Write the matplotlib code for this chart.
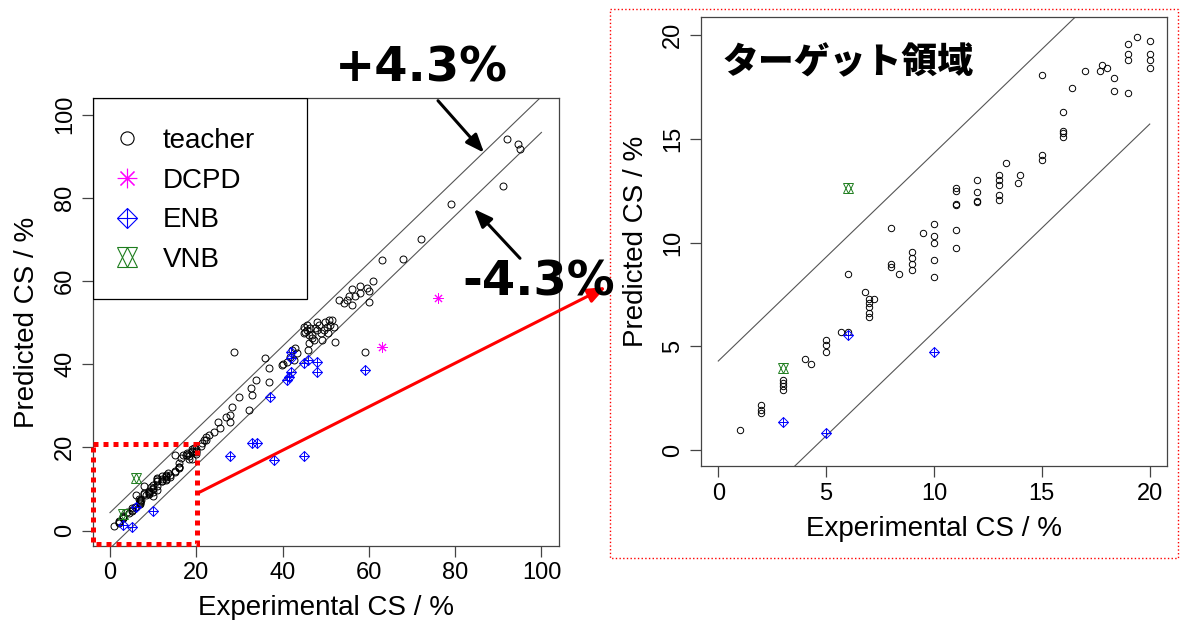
import matplotlib
matplotlib.use("Agg")
import matplotlib.pyplot as plt
from matplotlib.patches import Rectangle
from matplotlib.lines import Line2D

plt.rcParams['font.family'] = ['Liberation Sans', 'DejaVu Sans']

# --- datos ---
teacher_x = [1, 2, 2, 2, 3, 3, 3, 3, 4, 4.3, 5, 5, 5, 5.7, 6, 6, 6.8, 7, 7, 7, 7, 7, 7.2,
             8, 8, 8, 8.4, 9, 9, 9, 9, 9.5, 10, 10, 10, 10, 10, 11, 11, 11, 11, 11, 11,
             12, 12, 12, 12, 13, 13, 13, 13, 13, 13.35, 13.9, 14, 15, 15, 15, 16, 16, 16, 16,
             16.4, 17, 17.7, 17.8, 18, 18.35, 18.35, 19, 19, 19, 19, 19.4, 20, 20, 20, 20,
             21, 21.4, 21.8, 22.2, 22.2, 22.9, 24.1, 25.0, 25.5, 27.0, 27.9, 27.9, 28.2, 28.7,
             29.9, 32.2, 32.7, 32.9, 33.9, 36.0, 36.8, 36.8, 39.9, 40.1, 41.1, 41.8, 42.2, 42.6,
             43.0, 43.4, 45.8, 46.1,
             44.9, 45.3, 44.9, 45.7, 46.3, 46.9, 47.2, 48.0, 48.4, 48.8, 49.1, 49.9, 50.3, 50.7,
             51.1, 51.5, 51.9, 52.2, 49.5, 48.0, 46.9, 45.7, 46.1, 47.5, 50.5,
             53.0, 54.2, 55.0, 56.1, 56.9, 56.1, 58.0, 58.0, 59.6, 60.0, 61.0, 60.0, 55.3, 59.0,
             63, 68, 72, 79, 91, 92, 94.5, 95]
teacher_y = [1.0, 2.2, 1.95, 1.8, 3.4, 3.25, 3.1, 2.9, 4.4, 4.15, 5.3, 5.05, 4.75, 5.7, 5.7, 8.5,
             7.6, 7.3, 7.1, 6.9, 6.6, 6.4, 7.3, 10.7, 8.95, 8.8, 8.5, 9.55, 9.25, 8.95, 8.7, 10.45,
             10.9, 10.3, 10.0, 9.15, 8.35, 12.6, 12.5, 11.85, 11.8, 10.6, 9.75, 13.0, 12.45, 12.0,
             11.95, 13.25, 13.0, 12.75, 12.3, 12.05, 13.85, 12.85, 13.25, 18.05, 14.2, 13.95, 16.3,
             15.35, 15.25, 15.1, 17.45, 18.25, 18.25, 18.55, 18.4, 17.9, 17.3, 19.55, 19.05, 18.8,
             17.2, 19.9, 19.7, 19.05, 18.8, 18.4,
             20.2, 21.1, 21.8, 22.6, 21.7, 23.0, 23.8, 26.1, 24.6, 27.3, 27.8, 26.1, 29.8, 42.9,
             32.1, 29.0, 34.2, 32.6, 36.1, 41.4, 39.0, 35.6, 39.8, 40.1, 40.6, 41.8, 43.4, 41.0,
             43.8, 42.6, 43.3, 45.0,
             49.0, 47.8, 47.4, 49.4, 48.6, 47.0, 45.9, 50.2, 49.4, 47.4, 45.9, 50.2, 49.0, 50.5,
             49.4, 50.5, 49.0, 45.4, 48.2, 48.2, 46.2, 48.2, 47.0, 48.8, 47.5,
             55.5, 54.6, 55.5, 54.3, 56.3, 58.0, 58.7, 57.1, 58.3, 57.5, 59.9, 54.9, 56.3, 42.9,
             65, 65.2, 70, 78.5, 82.9, 94, 93, 91.7]

dcpd_x = [63, 76]
dcpd_y = [44.2, 55.9]

enb_x = [3, 5, 6, 10, 27.9, 33, 34, 38, 45, 37, 41, 41.6, 42, 42, 42, 45, 45.8, 48, 48, 59]
enb_y = [1.35, 0.85, 5.55, 4.75, 17.8, 21, 21, 17, 17.8, 32.2, 36.2, 37, 38.2, 42.8, 41.5,
         40.2, 41, 40.4, 38, 38.6]

vnb_x = [3, 6]
vnb_y = [3.95, 12.6]

banda = 4.3
ticks_izq = [0, 20, 40, 60, 80, 100]
ticks_der = [0, 5, 10, 15, 20]

C_DCPD = '#FF00FF'
C_ENB = '#0000FF'
C_VNB = '#1E7D1E'

W, H = 1182, 620
fig = plt.figure(figsize=(W / 100, H / 100), dpi=100)


def ejes_px(left, top, right, bottom):
    return fig.add_axes([left / W, 1 - bottom / H, (right - left) / W, (bottom - top) / H])


def estilo(ax, lim_x, lim_y, ticks):
    ax.set_xlim(lim_x)
    ax.set_ylim(lim_y)
    ax.set_xticks(ticks)
    ax.set_yticks(ticks)
    for s in ax.spines.values():
        s.set_color('#444444')
        s.set_linewidth(0.9)
    ax.tick_params(direction='out', length=8, width=0.9, color='#444444', labelsize=17, pad=4)
    ax.tick_params(axis='y', labelrotation=90, pad=4)
    plt.setp(ax.get_yticklabels(), va='center')
    ax.set_xlabel('Experimental CS / %', fontsize=20, labelpad=7.8)
    ax.set_ylabel('Predicted CS / %', fontsize=20, labelpad=9.8)


def puntos(ax, ms_c, ms_e, x_max):
    x_lin = [0, x_max]
    ax.plot(x_lin, [x + banda for x in x_lin], color='#555555', lw=0.8)
    ax.plot(x_lin, [x - banda for x in x_lin], color='#555555', lw=0.8)
    ax.plot(teacher_x, teacher_y, ls='none', marker='o', mfc='none', mec='black', ms=ms_c, mew=0.7)
    ax.plot(dcpd_x, dcpd_y, ls='none', marker=(8, 2, 0), color=C_DCPD, ms=ms_e, mew=0.7)
    ax.plot(enb_x, enb_y, ls='none', marker='D', mfc='none', mec=C_ENB, ms=ms_e * 0.7, mew=0.7)
    ax.plot(enb_x, enb_y, ls='none', marker='+', color=C_ENB, ms=ms_e, mew=0.7)
    ax.plot(vnb_x, vnb_y, ls='none', marker='^', mfc='none', mec=C_VNB, ms=ms_e, mew=0.7)
    ax.plot(vnb_x, vnb_y, ls='none', marker='v', mfc='none', mec=C_VNB, ms=ms_e, mew=0.7)


# panel izquierdo
ax1 = ejes_px(92.7, 98.3, 558.7, 545.5)
estilo(ax1, (-4, 104), (-3.6, 103.9), ticks_izq)
puntos(ax1, 5.0, 7.2, ticks_izq[-1])

h_teacher = Line2D([], [], ls='none', marker='o', mfc='none', mec='black', ms=9.5, mew=0.8)
h_dcpd = Line2D([], [], ls='none', marker=(8, 2, 0), color=C_DCPD, ms=14, mew=0.8)
h_enb = (Line2D([], [], ls='none', marker='D', mfc='none', mec=C_ENB, ms=10, mew=0.8),
         Line2D([], [], ls='none', marker='+', color=C_ENB, ms=14, mew=0.8))
h_vnb = (Line2D([], [], ls='none', marker='^', mfc='none', mec=C_VNB, ms=14, mew=0.8),
         Line2D([], [], ls='none', marker='v', mfc='none', mec=C_VNB, ms=14, mew=0.8))
ax1.legend([h_teacher, h_dcpd, h_enb, h_vnb], ['teacher', 'DCPD', 'ENB', 'VNB'],
           loc='upper left', bbox_to_anchor=(0, 0.977), borderaxespad=0, frameon=False,
           fontsize=20, borderpad=0.7, handlelength=1.05, handletextpad=0.77, labelspacing=0.49)
ax1.add_patch(Rectangle((0, 0.5512), 0.4605, 0.4488, transform=ax1.transAxes, fill=False,
                        ec='black', lw=0.9, zorder=5))

# panel derecho (zoom)
ax2 = ejes_px(701, 17, 1167, 466)
estilo(ax2, (-0.8, 20.8), (-0.75, 20.85), ticks_der)
puntos(ax2, 4.6, 7.2, ticks_der[-1])

# anotaciones en pixeles de la figura
ov = fig.add_axes([0, 0, 1, 1], zorder=10)
ov.set_xlim(0, W)
ov.set_ylim(H, 0)
ov.axis('off')
ov.patch.set_alpha(0)

ov.add_patch(Rectangle((609.5, 8.5), 568.5, 549.5, fill=False, ec='red', lw=1, ls=':'))
ov.add_patch(Rectangle((92.5, 443.5), 104.5, 100.5, fill=False, ec='red', lw=3.6, ls=(0, (1, 1))))

flecha = '-|>,head_length=0.55,head_width=0.22'
ov.annotate('', xy=(606, 287), xytext=(198, 493),
            arrowprops=dict(arrowstyle=flecha, color='red', lw=2.2, mutation_scale=20,
                            shrinkA=0, shrinkB=0))
ov.annotate('', xy=(484, 152.7), xytext=(438, 100.7),
            arrowprops=dict(arrowstyle=flecha, color='black', lw=2.2, mutation_scale=20,
                            shrinkA=0, shrinkB=0))
ov.annotate('', xy=(474, 209), xytext=(520, 258.3),
            arrowprops=dict(arrowstyle=flecha, color='black', lw=2.2, mutation_scale=20,
                            shrinkA=0, shrinkB=0))

ov.text(421.7, 81.7, '+4.3%', ha='center', va='baseline', fontsize=34.5, weight='bold',
        family='DejaVu Sans')
ov.text(539, 295, '-4.3%', ha='center', va='baseline', fontsize=34.5, weight='bold',
        family='DejaVu Sans')
ov.text(723, 73, 'ターゲット領域', ha='left', va='baseline', fontsize=25.8, weight='heavy',
        family=['Noto Sans CJK JP', 'DejaVu Sans'])

fig.savefig('out.png', dpi=100)
